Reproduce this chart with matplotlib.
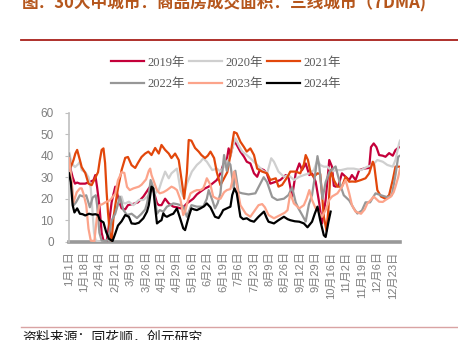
import matplotlib
matplotlib.use("Agg")
import matplotlib.pyplot as plt
import matplotlib.transforms as mtransforms
from matplotlib.lines import Line2D
import pandas as pd

plt.rcParams['font.family'] = ['Liberation Sans', 'Noto Sans CJK SC']

title = "图：30大中城市：商品房成交面积：三线城市（7DMA)"
source = "资料来源：同花顺，创元研究"

# x-axis tick labels (every 17 days)
tick_labels = ["1月1日", "1月18日", "2月4日", "2月21日", "3月9日", "3月26日",
               "4月12日", "4月29日", "5月16日", "6月2日", "6月19日", "7月6日",
               "7月23日", "8月9日", "8月26日", "9月12日", "9月29日", "10月16日",
               "11月2日", "11月19日", "12月6日", "12月23日"]

# 7DMA transaction area (10k m2) by day of year
days_2019 = [0, 2, 4, 6.6, 9, 12, 17.7, 21, 24, 27, 29, 31, 33.5, 36, 38, 41.5, 43, 45, 47, 49,
             51, 53, 56, 58, 62, 65, 71, 76, 82, 86, 88, 91, 94, 97, 99, 102, 106, 110, 115, 119,
             123, 126, 130, 137, 141, 145, 150, 154, 158, 163, 167, 170, 174, 176, 178, 182, 185,
             189, 193, 196, 200, 204, 207.5, 211, 215, 218, 222, 228, 233, 239, 242, 246, 250,
             254, 257, 261, 265, 268, 272, 276, 279, 283, 287, 290, 292, 294, 297, 301, 305, 309,
             312, 316, 320, 325, 331, 333, 336, 339, 342, 346, 349, 353, 357, 360, 364, 365]
vals_2019 = [38.8, 33.3, 30, 27, 27.5, 27, 27, 27.5, 28, 28.6, 31, 25.3, 16.9, 4.2, 0.5, 0.3, 4, 11.6,
             18.3, 22, 25.6, 22.5, 17.8, 15.5, 15, 17, 17.6, 18.3, 21, 23.5, 24.8, 26.4, 22.5, 18, 17,
             17, 20, 17.8, 16.3, 16, 15.5, 16, 17.8, 20, 22, 23.3, 24.8, 25.6, 27, 28.7, 31.8, 35.7,
             38, 43.4, 40, 47.3, 45, 41.9, 39.5, 37.2, 36.4, 31.8, 30.2, 34, 33.3, 31.8, 27, 27.9,
             28.7, 31, 30, 21, 31.8, 36.4, 33.3, 36.4, 31, 31.8, 27.9, 17.8, 8.5, 19.4, 38, 34.9, 26,
             25.6, 26, 31.8, 30.2, 28.7, 31, 28.7, 33.3, 34, 34.3, 44, 45.7, 44, 40.3, 40, 39.5,
             41.2, 40, 42.6, 44, 44]

days_2020 = [0, 2, 4, 6.6, 10, 12, 14, 17.7, 21.5, 24, 26, 27.6, 29.5, 33, 40, 44, 47, 49, 51, 54,
             58, 60, 62, 66, 71, 77, 82, 88, 91, 95, 99, 102, 106, 110, 113, 119, 123, 126, 130,
             135.5, 141, 145, 148, 152, 158, 163, 167, 171, 174, 178, 180, 183.5, 187, 191, 196,
             202, 207.5, 213, 218.5, 223, 226, 231, 237, 242, 248, 254, 259, 265, 270, 274, 277,
             281, 285, 290, 294, 300, 307, 314, 322, 329, 335, 340, 346, 351, 357, 360, 364, 365]
vals_2020 = [42, 38, 36, 34.7, 36, 37.2, 33.3, 32.5, 30, 24.8, 13.6, 4.2, 0.5, 0.2, 0.2, 1.4, 8,
             12.2, 14, 17.5, 21, 18, 17.8, 18.6, 17, 19.4, 19.4, 21.7, 27.9, 22.5, 24, 27.9, 32.6,
             29.5, 31.8, 34, 24, 21, 27, 32.6, 35.7, 37.2, 38.8, 37.2, 33.3, 34, 32.6, 34.9, 37.2,
             39.5, 43.4, 48, 45, 41.9, 40.3, 38, 35.7, 33.3, 31.8, 38.8, 37.2, 32.6, 30.2, 31, 28.7,
             30.2, 31, 31.8, 33.3, 38, 35.7, 34.9, 34.9, 32.6, 33.3, 33.3, 34, 34, 33.3, 34.9, 35.7,
             38, 37.2, 35.7, 34.9, 38, 45.7, 47]

days_2021 = [0, 2, 5, 7, 9, 12, 14, 18, 21.5, 25, 28.7, 32, 34, 36, 38, 39.8, 41.5, 43, 45, 47,
             49, 51, 54, 58, 62, 65, 69, 73, 76, 80, 84, 87.5, 91, 95, 99, 102, 106, 110, 113, 117,
             121, 124.5, 127, 130, 132, 135, 139, 143, 146, 150, 153, 156, 160, 163, 167, 171,
             174.5, 178, 182, 185, 189, 193, 196, 200, 204, 207.5, 213, 218.5, 222, 228, 231, 235,
             241, 244, 250, 255, 259, 261, 263.5, 266.5, 270, 274, 277, 279, 281, 284, 286, 288.5,
             292, 296, 301, 305, 309, 312, 316, 322, 327, 331, 335, 336.5, 340, 344, 349, 353,
             357, 360, 365]
vals_2021 = [39, 34.7, 38, 41, 42.7, 38, 34.7, 31.9, 27, 26.3, 29.5, 32.3, 38, 42.7, 43.4, 36.6, 23,
             13.6, 4.2, 0.5, 10.8, 16.9, 24.8, 33.3, 39, 39.4, 35.6, 34.3, 36.6, 39.4, 41, 41.9,
             40.3, 43.6, 41, 45, 42.7, 41, 38.9, 41, 38, 27.7, 20, 32, 47.3, 47, 43.6, 41.9, 40.3,
             38.9, 40, 41.9, 38.9, 32.3, 26.3, 29.5, 32.3, 40.3, 51, 50.4, 46.5, 44, 41.9, 43.4,
             40.3, 34, 32.6, 31.8, 28.7, 29.5, 25.6, 26.4, 30.2, 32.6, 32.6, 31.8, 36, 40.3, 38,
             31.8, 30.2, 31.8, 31.5, 22, 11.6, 5, 15, 33.3, 28.7, 25.6, 25.6, 30.2, 27.9, 28, 27.9,
             28.7, 29.5, 31.8, 37.2, 35.7, 24, 21, 20, 21.7, 28.7, 34.9, 34.9]

days_2022 = [0, 2, 5, 7.7, 12, 16, 19, 23, 26, 29.5, 31, 33.5, 36, 41.5, 43, 47, 51, 54, 56, 58, 60,
             64, 69, 75, 80, 84, 86, 88, 90, 92, 94, 97, 100, 104, 108, 115, 119, 123, 126, 130,
             135, 141, 148, 152, 154, 158, 161, 164, 167, 169, 171, 174, 176, 178, 181.6, 183.4,
             187, 191, 198, 205.5, 211, 214.7, 218.4, 224, 229.5, 237, 242, 246, 250, 253, 257,
             261, 264.5, 268, 271, 274, 276, 279.5, 283, 287, 291, 294, 297, 300, 303, 309, 314,
             318, 323, 327, 332, 338, 344, 351, 356, 360, 363, 365]
vals_2022 = [41, 31, 16.9, 18.3, 21.6, 21, 21.6, 16, 20.5, 21.6, 16.9, 4.2, 0.5, 0.3, 1.4, 9.8, 13,
             17.5, 21, 18, 14.7, 12.4, 13, 11, 13, 15, 17.8, 22, 28.7, 26, 22.5, 13, 14.7, 14, 16.3,
             17.8, 17.5, 17, 16.5, 11.6, 17, 16.3, 16.3, 20, 24, 19.4, 15.5, 18, 22.5, 32, 40.3,
             33, 37, 35.8, 24.7, 33, 23, 22.5, 22, 22.5, 27, 30, 27.7, 20.8, 19.4, 20, 21.7, 25.3,
             18.3, 15.5, 12.5, 9.4, 17.3, 21.7, 30, 39.8, 35, 20, 27.7, 32.3, 34, 35, 30, 25.3,
             21.6, 19.2, 15.5, 13.1, 14.5, 18.3, 18.3, 22.5, 21.6, 20.7, 21.6, 31, 39.5, 40]

days_2023 = [0, 3, 5, 8.5, 12, 14, 16, 19, 21.5, 24, 28, 30.6, 33.5, 37, 40, 45, 51, 54, 58, 61, 64,
             67, 71, 77, 80, 85, 88, 89.5, 91, 93, 97, 100, 104, 108, 113, 116, 119, 123, 126, 128,
             131, 134, 138, 141, 145, 148, 150, 152, 156, 159, 163, 167, 171, 174, 178, 180, 182,
             185, 189, 192, 195, 200, 204, 209, 213, 216, 220, 226, 233, 238, 241, 244, 248, 254,
             259, 262, 265, 268, 272, 274, 279, 283, 287, 290, 296, 301, 305, 309, 312, 316, 322,
             326, 329, 333, 336, 342, 346, 349, 355, 358, 360, 363, 365]
vals_2023 = [38.8, 27.7, 18.3, 23, 24.8, 24.8, 22.3, 16.9, 6, 0.5, 0.3, 10.8, 16.9, 17.5, 18.3, 19.2,
             22.3, 28.6, 32.3, 32, 25.5, 24, 24.8, 25.6, 26.5, 29, 33, 34, 31, 28.7, 24, 22.5, 23,
             24, 25.6, 25, 24, 19.4, 12.4, 14, 19, 22.5, 23.5, 24, 24, 24.8, 27, 29.5, 26.4, 21, 20,
             20, 23, 24, 24.5, 28, 32.6, 26.4, 17, 15, 13, 11.6, 14, 17, 17.5, 16, 12.4, 10.9, 12.4,
             13.5, 14.7, 22.5, 17.8, 15.5, 17, 20, 24, 19.4, 15.5, 14.7, 11.6, 14.7, 19.4, 21, 22.5,
             25.6, 28.7, 22.5, 17, 14, 13, 15, 17.8, 19.5, 21, 18.6, 18.5, 19.4, 21, 23, 25.6, 30,
             34]

days_2024 = [0, 2, 4, 6, 9, 12, 15, 18, 22, 26, 29, 32, 34, 38, 41, 44, 48, 51, 54, 58, 62, 66, 69,
             73, 77, 82, 86, 88, 91, 93, 95, 97, 100, 102, 104, 106, 108, 112, 115, 119, 122, 126,
             128, 132, 135, 138, 141, 145, 149, 152, 156, 161, 165, 168, 170, 174, 178, 180, 182.5,
             185, 189, 192, 196, 200, 204, 209, 215, 218, 220, 226, 231, 237, 241, 244, 249, 254,
             259, 263, 268, 271, 274, 277, 281, 283, 286, 288.5]
vals_2024 = [31.8, 27.7, 17, 13.6, 15.5, 13, 12.8, 12.2, 13, 12.6, 12.8, 12.4, 10, 9, 4.5, 1.4, 0.3,
             3.8, 7.5, 9.5, 12.4, 11.6, 8.5, 8.3, 8.8, 10.9, 14, 17, 25.6, 24.8, 16, 8.5, 9.5, 10,
             13.2, 12, 11.6, 12.5, 13, 15.5, 11.6, 6.2, 5.4, 11.6, 15.5, 15, 14.7, 15.5, 16.5, 17.8,
             16, 11.6, 11, 13, 14.7, 15.5, 16.3, 21.7, 24.8, 22.5, 11.6, 10.5, 10.9, 9.8, 9.3, 11.6,
             14, 11, 9.3, 8.5, 10, 11.6, 10.5, 10, 9.5, 9.3, 8.5, 6.7, 9.3, 13, 16.3, 10, 3, 2.2, 9,
             14]

series = [
    ("2019年", days_2019, vals_2019, "#C4003A"),
    ("2020年", days_2020, vals_2020, "#CFCFCF"),
    ("2021年", days_2021, vals_2021, "#E2470B"),
    ("2022年", days_2022, vals_2022, "#979797"),
    ("2023年", days_2023, vals_2023, "#FCA48B"),
    ("2024年", days_2024, vals_2024, "#000000"),
]

W, H = 458, 340
fig = plt.figure(figsize=(W / 100, H / 100), dpi=100)

def fx(px):
    return px / W

def fy(py):
    return 1 - py / H

ax = fig.add_axes([fx(69), fy(241.7), fx(400) - fx(69), fy(112.7) - fy(241.7)])

for name, d, v, c in series:
    ax.plot(d, v, color=c, lw=1.6, label=name, solid_joinstyle="round", zorder=3)

ax.set_xlim(0, 365)
ax.set_ylim(0, 60)
ax.set_yticks(range(0, 61, 10))

# tick positions from the label dates (leap-year calendar)
tick_pos = []
for lab in tick_labels:
    m, rest = lab.split("月")
    dd = rest.rstrip("日")
    tick_pos.append(pd.Timestamp(2024, int(m), int(dd)).dayofyear - 1)
ax.set_xticks(tick_pos)
ax.set_xticklabels(tick_labels, rotation=90, fontsize=8, color="#7F7F7F",
                   family=["Liberation Sans", "Noto Sans CJK SC"])
shift = mtransforms.ScaledTranslation(3 / 100, 0, fig.dpi_scale_trans)
for t in ax.get_xticklabels():
    t.set_transform(t.get_transform() + shift)

ax.tick_params(axis="x", length=0, pad=7)
ax.tick_params(axis="y", length=3, width=0.8, color="#BFBFBF", labelcolor="#7F7F7F",
               labelsize=8.5, pad=8)

for s in ["top", "right"]:
    ax.spines[s].set_visible(False)
ax.spines["left"].set_color("#BFBFBF")
ax.spines["left"].set_linewidth(1.2)
ax.spines["bottom"].set_color("#999999")
ax.spines["bottom"].set_linewidth(2.6)
ax.spines["bottom"].set_zorder(2)

# legend: two rows of three, filled row by row
handles, labels = ax.get_legend_handles_labels()
order = [0, 3, 1, 4, 2, 5]
fig.legend([handles[i] for i in order], [labels[i] for i in order], ncol=3, loc="center",
           bbox_to_anchor=(fx(226), fy(73.5)), frameon=False,
           prop={"family": ["Liberation Serif", "Noto Sans CJK SC"], "size": 9},
           labelcolor="#595959", handlelength=2.6, handletextpad=0.3,
           columnspacing=0.35, labelspacing=0.75, borderpad=0)

# header and footer
fig.text(fx(22), fy(8), title, fontsize=12, fontweight="bold", color="#B5561C",
         va="baseline", ha="left", family=["Noto Sans CJK SC"])
fig.add_artist(Line2D([fx(21), 1], [fy(39.5), fy(39.5)], color="#A8201A", lw=1.3))
fig.add_artist(Line2D([fx(21), 1], [fy(326.7), fy(326.7)], color="#D9A3A3", lw=1.0))
fig.text(fx(22), fy(330.5), source, fontsize=10, color="#1A1A1A", va="top", ha="left",
         family=["Noto Sans CJK SC"])

fig.savefig("out.png", dpi=100)
